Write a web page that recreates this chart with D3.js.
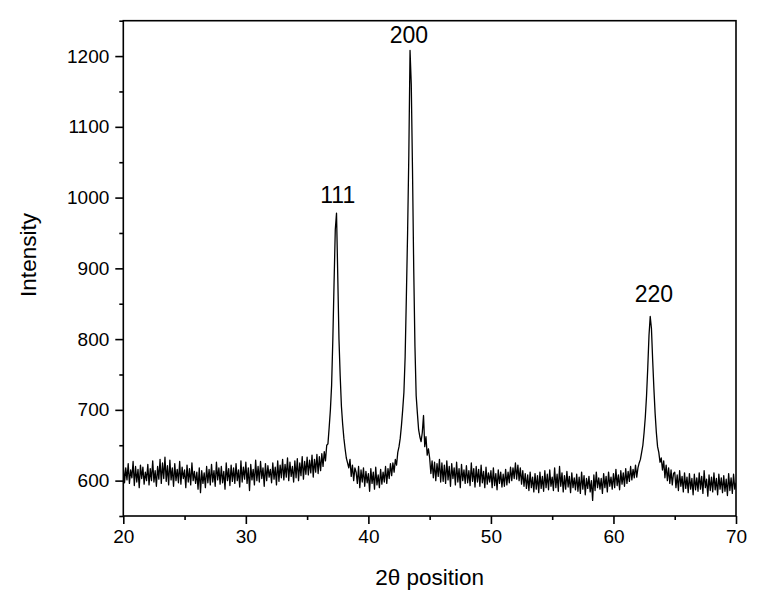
<!DOCTYPE html>
<html>
<head>
<meta charset="utf-8">
<script src="https://cdn.jsdelivr.net/npm/d3@7"></script>
<style>
  body { margin: 0; background: #fff; }
  text { font-family: "Liberation Sans", Arial, sans-serif; fill: #000; }
</style>
</head>
<body>
<svg id="chart" width="762" height="604"></svg>
<script>
// Measurement grid: 2θ from 20.0° in 0.1° steps (one segment per 10°)
const startAngle = 20.0;
const stepAngle = 0.1;

// Intensity readings, 20.0–29.9
const intensity20 = [
  621, 597, 618, 601, 624, 596, 615, 604, 627, 593,
  620, 598, 616, 590, 622, 603, 619, 595, 612, 600,
  623, 594, 617, 600, 628, 598, 614, 592, 620, 602,
  630, 596, 625, 603, 633, 599, 621, 594, 629, 601,
  618, 592, 624, 600, 616, 597, 627, 595, 619, 603,
  615, 590, 622, 598, 617, 594, 625, 600, 613, 596,
  612, 588, 618, 583, 614, 596, 611, 590, 620, 597,
  616, 594, 623, 598, 614, 592, 626, 601, 618, 595,
  620, 597, 613, 588, 625, 600, 617, 593, 622, 599,
  618, 596, 624, 600, 615, 591, 628, 598, 619, 602
];
// 30.0–39.9 (111 reflection)
const intensity30 = [
  626, 596, 618, 586, 623, 601, 616, 594, 629, 600,
  620, 598, 627, 603, 618, 592, 624, 600, 621, 605,
  616, 597, 625, 602, 619, 594, 628, 599, 622, 604,
  630, 601, 623, 605, 632, 600, 626, 606, 620, 598,
  628, 604, 631, 600, 625, 607, 634, 602, 627, 609,
  633, 608, 629, 611, 636, 605, 630, 612, 637, 610,
  634, 614, 638, 620, 641, 628, 650, 652, 675, 700,
  735, 800, 880, 955, 978, 890, 800, 748, 705, 680,
  660, 645, 632, 625, 618, 630, 606, 622, 600, 618,
  612, 596, 620, 590, 615, 598, 618, 592, 613, 597
];
// 40.0–49.9 (200 reflection)
const intensity40 = [
  610, 585, 617, 596, 612, 588, 619, 594, 608, 590,
  616, 595, 612, 598, 620, 596, 617, 603, 624, 607,
  625, 612, 630, 622, 640, 648, 660, 678, 700, 725,
  775, 860, 950, 1060, 1208, 1160, 1040, 900, 790, 720,
  695, 672, 662, 655, 668, 692, 648, 662, 636, 645,
  632, 610, 628, 604, 626, 600, 624, 606, 630, 598,
  625, 599, 622, 596, 628, 601, 620, 592, 624, 603,
  618, 594, 626, 598, 617, 590, 623, 600, 615, 596,
  621, 597, 614, 593, 625, 599, 617, 591, 620, 598,
  616, 592, 622, 597, 613, 590, 619, 595, 611, 598
];
// 50.0–59.9
const intensity50 = [
  614, 590, 618, 593, 610, 587, 615, 596, 612, 591,
  609, 592, 616, 594, 612, 597, 619, 600, 618, 603,
  625, 602, 622, 600, 618, 595, 614, 592, 610, 589,
  608, 586, 612, 590, 605, 584, 610, 588, 607, 583,
  612, 589, 606, 585, 614, 590, 609, 587, 615, 592,
  605, 586, 618, 590, 609, 585, 620, 592, 611, 584,
  607, 588, 613, 591, 606, 583, 611, 590, 604, 587,
  609, 585, 605, 582, 612, 588, 607, 580, 603, 589,
  606, 584, 600, 572, 608, 586, 612, 590, 604, 588,
  603, 582, 610, 590, 606, 584, 612, 592, 605, 588
];
// 60.0–70.0 (220 reflection)
const intensity60 = [
  610, 590, 616, 593, 608, 587, 614, 595, 611, 592,
  617, 596, 613, 599, 620, 601, 616, 604, 622, 605,
  618, 625, 630, 640, 650, 668, 690, 720, 760, 805,
  832, 815, 770, 730, 695, 668, 648, 640, 626, 632,
  615, 628, 604, 622, 600, 618, 596, 615, 594, 610,
  612, 590, 608, 586, 614, 592, 606, 584, 611, 589,
  605, 583, 610, 588, 603, 580, 609, 587, 604, 585,
  611, 588, 606, 582, 614, 590, 602, 578, 608, 586,
  605, 584, 611, 587, 603, 580, 609, 588, 604, 583,
  607, 585, 602, 579, 610, 586, 604, 582, 609, 588,
  597
];

const peakLabels = ["111", "200", "220"];
const labelAngles = [37.5, 43.3, 63.3];
const labelIntensities = [992, 1218, 852];

const xMajorTicks = [20, 30, 40, 50, 60, 70];
const xMinorTicks = [25, 35, 45, 55, 65];
const yMajorTicks = [600, 700, 800, 900, 1000, 1100, 1200];
const yMinorTicks = [550, 650, 750, 850, 950, 1050, 1150, 1250];

const xTitle = "2θ position";
const yTitle = "Intensity";

// ---- build series ----
const allIntensity = [].concat(intensity20, intensity30, intensity40, intensity50, intensity60);
const data = allIntensity.map((v, i) => ({ t: +(startAngle + i * stepAngle).toFixed(2), v }));

const svg = d3.select("#chart");
const m = { left: 123.3, top: 20.7, right: 762 - 736, bottom: 604 - 516 };
const W = 762 - m.left - m.right;
const H = 604 - m.top - m.bottom;

const x = d3.scaleLinear().domain([20, 70]).range([0, W]);
const y = d3.scaleLinear().domain([550, 1250]).range([H, 0]);

const g = svg.append("g").attr("transform", `translate(${m.left},${m.top})`);

g.append("clipPath").attr("id", "clip")
  .append("rect").attr("x", 0).attr("y", 0).attr("width", W).attr("height", H);

const line = d3.line().x(d => x(d.t)).y(d => y(d.v));
g.append("path")
  .datum(data)
  .attr("clip-path", "url(#clip)")
  .attr("fill", "none")
  .attr("stroke", "#000")
  .attr("stroke-width", 1.3)
  .attr("stroke-linejoin", "round")
  .attr("d", line);

// axes
function styleAxis(sel) {
  sel.select(".domain").remove();
  sel.selectAll(".tick line").attr("stroke", "#000").attr("stroke-width", 1.6);
  sel.selectAll(".tick text").style("font-size", "19px").style("font-family", '"Liberation Sans", Arial, sans-serif').attr("fill", "#000");
}

g.append("g").attr("transform", `translate(0,${H})`)
  .call(d3.axisBottom(x).tickValues(xMajorTicks).tickSize(8).tickPadding(6).tickFormat(d3.format("d")))
  .call(styleAxis);
g.append("g").attr("transform", `translate(0,${H})`)
  .call(d3.axisBottom(x).tickValues(xMinorTicks).tickSize(4).tickFormat(""))
  .call(styleAxis);

g.append("g")
  .call(d3.axisLeft(y).tickValues(yMajorTicks).tickSize(8).tickPadding(6).tickFormat(d3.format("d")))
  .call(styleAxis);
g.append("g")
  .call(d3.axisLeft(y).tickValues(yMinorTicks).tickSize(4).tickFormat(""))
  .call(styleAxis);

// frame
g.append("rect")
  .attr("x", 0).attr("y", 0).attr("width", W).attr("height", H)
  .attr("fill", "none").attr("stroke", "#000").attr("stroke-width", 1.6);

// peak labels
g.selectAll(".peak")
  .data(peakLabels)
  .enter().append("text")
  .attr("class", "peak")
  .attr("x", (d, i) => x(labelAngles[i]))
  .attr("y", (d, i) => y(labelIntensities[i]))
  .attr("text-anchor", "middle")
  .style("font-size", "23px")
  .text(d => d);

// axis titles
svg.append("text")
  .attr("x", m.left + W / 2)
  .attr("y", 585)
  .attr("text-anchor", "middle")
  .style("font-size", "22.5px")
  .text(xTitle);

svg.append("text")
  .attr("transform", `translate(36,255) rotate(-90)`)
  .attr("text-anchor", "middle")
  .style("font-size", "22.5px")
  .text(yTitle);
</script>
</body>
</html>
